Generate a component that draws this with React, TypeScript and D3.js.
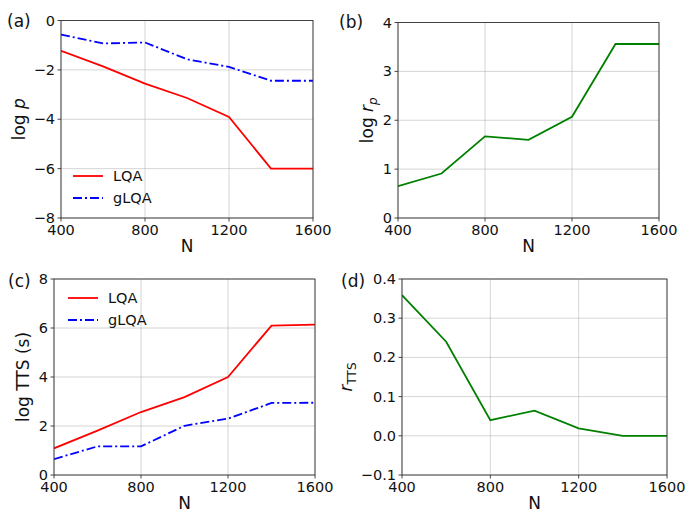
import React from "react";
import * as d3 from "d3";

const N = [400, 600, 800, 1000, 1200, 1400, 1600];
const xTicks = [400, 800, 1200, 1600];

const logP_LQA = [-1.23, -1.86, -2.56, -3.14, -3.91, -6.0, -6.0];
const logP_gLQA = [-0.57, -0.93, -0.89, -1.57, -1.88, -2.44, -2.44];
const logRp = [0.65, 0.91, 1.67, 1.6, 2.07, 3.56, 3.56];
const logTTS_LQA = [1.09, 1.81, 2.57, 3.18, 4.0, 6.1, 6.14];
const logTTS_gLQA = [0.65, 1.17, 1.17, 2.01, 2.3, 2.94, 2.95];
const rTTS = [0.359, 0.24, 0.04, 0.064, 0.019, 0.0, 0.0];

const yTicksA = [-8, -6, -4, -2, 0];
const yTicksB = [0, 1, 2, 3, 4];
const yTicksC = [0, 2, 4, 6, 8];
const yTicksD = [-0.1, 0.0, 0.1, 0.2, 0.3, 0.4];

const FONT = "DejaVu Sans, sans-serif";
const RED = "#ff0000";
const BLUE = "#0000ff";
const GREEN = "#008000";
const DASHDOT = "9,3,2,3";
const TICK_FS = 14.5;
const LABEL_FS = 17;

type Series = { values: number[]; color: string; dash?: string; name?: string };

function Panel(props: {
  left: number; right: number; top: number; bottom: number;
  yDomain: [number, number]; yTicks: number[]; yFmt: (v: number) => string;
  series: Series[]; tag: string; tagX: number; tagY: number;
  ylabel: React.ReactNode; ylabelX: number;
  legend?: { x: number; y: number };
}) {
  const { left, right, top, bottom, yDomain, yTicks, yFmt, series } = props;
  const x = d3.scaleLinear().domain([400, 1600]).range([left, right]);
  const y = d3.scaleLinear().domain(yDomain).range([bottom, top]);
  const line = d3.line<number>().x((_, i) => x(N[i])).y((v) => y(v));
  const midY = (top + bottom) / 2;
  return (
    <g fontFamily={FONT}>
      {xTicks.map((t) => (
        <line key={"gx" + t} x1={x(t)} x2={x(t)} y1={top} y2={bottom} stroke="#b0b0b0" strokeOpacity={0.6} strokeWidth={0.9} />
      ))}
      {yTicks.map((t) => (
        <line key={"gy" + t} x1={left} x2={right} y1={y(t)} y2={y(t)} stroke="#b0b0b0" strokeOpacity={0.6} strokeWidth={0.9} />
      ))}
      <defs>
        <clipPath id={"clip" + props.tag.replace(/[()]/g, "")}>
          <rect x={left} y={top} width={right - left} height={bottom - top} />
        </clipPath>
      </defs>
      <g clipPath={`url(#clip${props.tag.replace(/[()]/g, "")})`}>
        {series.map((s, i) => (
          <path key={i} d={line(s.values) || ""} fill="none" stroke={s.color} strokeWidth={1.8} strokeDasharray={s.dash} />
        ))}
      </g>
      <rect x={left} y={top} width={right - left} height={bottom - top} fill="none" stroke="#333" strokeWidth={0.9} />
      {xTicks.map((t) => (
        <g key={"tx" + t}>
          <line x1={x(t)} x2={x(t)} y1={bottom} y2={bottom + 3.5} stroke="#333" strokeWidth={0.9} />
          <text x={x(t)} y={bottom + 16.5} textAnchor="middle" fontSize={TICK_FS} fill="#111">{t}</text>
        </g>
      ))}
      {yTicks.map((t) => (
        <g key={"ty" + t}>
          <line x1={left - 3.5} x2={left} y1={y(t)} y2={y(t)} stroke="#333" strokeWidth={0.9} />
          <text x={left - 6} y={y(t)} dy="0.35em" textAnchor="end" fontSize={TICK_FS} fill="#111">{yFmt(t)}</text>
        </g>
      ))}
      <text x={(left + right) / 2} y={bottom + 34} textAnchor="middle" fontSize={LABEL_FS} fill="#111">N</text>
      <text transform={`translate(${props.ylabelX},${midY}) rotate(-90)`} textAnchor="middle" fontSize={LABEL_FS} fill="#111">{props.ylabel}</text>
      <text x={props.tagX} y={props.tagY} fontSize={LABEL_FS} fill="#111">{props.tag}</text>
      {props.legend && series.map((s, i) => (
        <g key={"lg" + i}>
          <line x1={props.legend!.x} x2={props.legend!.x + 30} y1={props.legend!.y + i * 22} y2={props.legend!.y + i * 22} stroke={s.color} strokeWidth={1.8} strokeDasharray={s.dash} />
          <text x={props.legend!.x + 40} y={props.legend!.y + i * 22} dy="0.35em" fontSize={TICK_FS} fill="#111">{s.name}</text>
        </g>
      ))}
    </g>
  );
}

const fmtInt = (v: number) => (v < 0 ? "\u2212" + Math.abs(v) : String(v));
const fmt1 = (v: number) => {
  const s = Math.abs(v).toFixed(1);
  return v < -1e-9 ? "\u2212" + s : s;
};

export default function App() {
  return (
    <svg width={687} height={513} style={{ position: "absolute", left: 0, top: 0, background: "#fff" }}>
      <Panel left={61} right={313} top={20.5} bottom={218} yDomain={[-8, 0]} yTicks={yTicksA} yFmt={fmtInt}
        series={[{ values: logP_LQA, color: RED, name: "LQA" }, { values: logP_gLQA, color: BLUE, dash: DASHDOT, name: "gLQA" }]}
        tag="(a)" tagX={7} tagY={27}
        ylabel={<>log <tspan fontStyle="italic">p</tspan></>} ylabelX={25}
        legend={{ x: 73, y: 176 }} />
      <Panel left={398} right={659} top={22.5} bottom={218} yDomain={[0, 4]} yTicks={yTicksB} yFmt={fmtInt}
        series={[{ values: logRp, color: GREEN }]}
        tag="(b)" tagX={339} tagY={28}
        ylabel={<>log <tspan fontStyle="italic">r</tspan><tspan fontStyle="italic" fontSize={12} dy={4}>p</tspan></>} ylabelX={373} />
      <Panel left={54} right={315} top={279} bottom={475} yDomain={[0, 8]} yTicks={yTicksC} yFmt={fmtInt}
        series={[{ values: logTTS_LQA, color: RED, name: "LQA" }, { values: logTTS_gLQA, color: BLUE, dash: DASHDOT, name: "gLQA" }]}
        tag="(c)" tagX={8} tagY={287}
        ylabel={<>log TTS (s)</>} ylabelX={29}
        legend={{ x: 68, y: 298 }} />
      <Panel left={402} right={667} top={279} bottom={475} yDomain={[-0.1, 0.4]} yTicks={yTicksD} yFmt={fmt1}
        series={[{ values: rTTS, color: GREEN }]}
        tag="(d)" tagX={341} tagY={287}
        ylabel={<><tspan fontStyle="italic">r</tspan><tspan fontSize={12} dy={4}>TTS</tspan></>} ylabelX={352} />
    </svg>
  );
}
